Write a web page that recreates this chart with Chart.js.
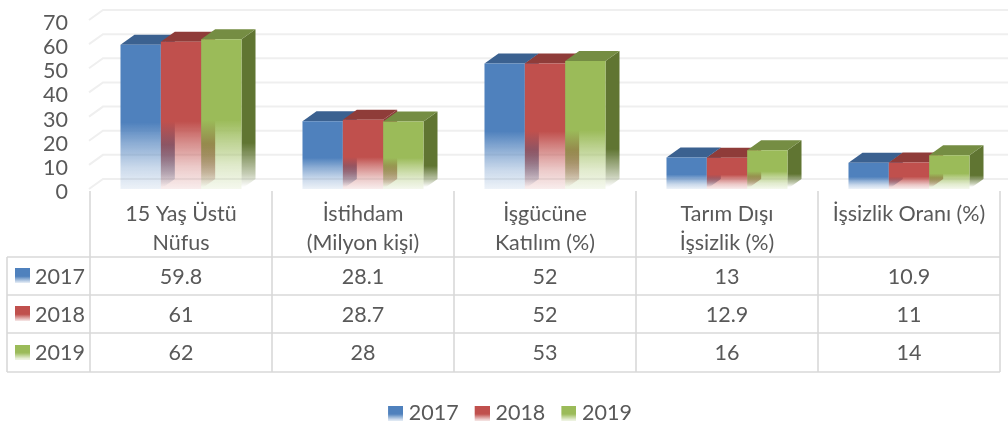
<!DOCTYPE html>
<html><head><meta charset="utf-8">
<style>html,body{margin:0;padding:0;background:#fff}canvas{display:block}</style>
<script src="https://cdn.jsdelivr.net/npm/chart.js@4"></script>
</head><body><canvas id="c" width="1008" height="429"></canvas>
<script>
const categories = [["15 Yaş Üstü","Nüfus"],["İstihdam","(Milyon kişi)"],["İşgücüne","Katılım (%)"],["Tarım Dışı","İşsizlik (%)"],["İşsizlik Oranı (%)"]];
const seriesNames = ["2017","2018","2019"];
const values2017 = [59.8,28.1,52,13,10.9];
const values2018 = [61,28.7,52,12.9,11];
const values2019 = [62,28,53,16,14];
const yTicks = {min:0,max:70,stepSize:10};
const fronts = [[79,129,189],[192,80,77],[155,187,89]];
const tops = ["#3b6190","#8f3c39","#758d43"];
const sides = [[56,93,138],[140,58,56],[96,117,50]];
const allValues = [values2017,values2018,values2019];
const FONT = "Lato, 'Open Sans', sans-serif", TEXT = "#595959", LINE = "#d9d9d9", GRID = "#efefef", FS = 21.5;
const DX = 14, DY = 10;
const rgba = (c,a)=>`rgba(${c[0]},${c[1]},${c[2]},${a})`;

function fade(ctx,c,y0,y1){
  const g = ctx.createLinearGradient(0,y0,0,y1);
  g.addColorStop(0,rgba(c,1)); g.addColorStop(0.54,rgba(c,1));
  g.addColorStop(0.68,rgba(c,0.66)); g.addColorStop(0.85,rgba(c,0.3)); g.addColorStop(1,rgba(c,0.1));
  return g;
}
function swatch(i){
  const cv = document.createElement("canvas"); cv.width = 20; cv.height = 15;
  const x = cv.getContext("2d");
  const g = x.createLinearGradient(0,0,0,15);
  g.addColorStop(0,rgba(fronts[i],1)); g.addColorStop(0.55,rgba(fronts[i],1)); g.addColorStop(1,rgba(fronts[i],0.12));
  x.fillStyle = g; x.fillRect(5,0,15,15);
  return cv;
}
const swatches = fronts.map((_,i)=>swatch(i));

const depth = {
  id:"depth",
  afterLayout(chart){ chart.legend.left += 20; },
  beforeDatasetsDraw(chart){
    const {ctx,chartArea:a,scales:{y}} = chart;
    ctx.save(); ctx.strokeStyle = GRID; ctx.lineWidth = 2;
    y.ticks.forEach(t=>{
      const p = y.getPixelForValue(t.value);
      ctx.beginPath(); ctx.moveTo(a.left-1,p); ctx.lineTo(a.left+DX-1,p-DY); ctx.lineTo(a.right+DX,p-DY); ctx.stroke();
    });
    ctx.restore();
    // left-most series first, so each one's front face lies over its neighbour's side face
    seriesNames.forEach((_,i)=>{
      const meta = chart.getDatasetMeta(i);
      ctx.save();
      meta.data.forEach(b=>{
        const x0=b.x-b.width/2, x1=b.x+b.width/2, t=b.y, base=b.base;
        const g = ctx.createLinearGradient(0,t-DY,0,base-2);
        const c = sides[i];
        g.addColorStop(0,rgba(c,1)); g.addColorStop(0.72,rgba(c,1)); g.addColorStop(0.92,rgba(c,0.35)); g.addColorStop(1,rgba(c,0));
        ctx.fillStyle = g;
        ctx.beginPath(); ctx.moveTo(x1,t); ctx.lineTo(x1+DX,t-DY); ctx.lineTo(x1+DX,base-DY); ctx.lineTo(x1,base); ctx.closePath(); ctx.fill();
        ctx.fillStyle = tops[i];
        ctx.beginPath(); ctx.moveTo(x0,t); ctx.lineTo(x0+DX,t-DY); ctx.lineTo(x1+DX,t-DY); ctx.lineTo(x1,t); ctx.closePath(); ctx.fill();
      });
      ctx.restore();
      meta.controller.draw();
    });
    return false;
  },
  afterDraw(chart){
    const {ctx,chartArea:a,scales:{x}} = chart;
    const rows=[257,295,333,372], left=7, colW = x.width/categories.length;
    ctx.save();
    ctx.strokeStyle = LINE; ctx.lineWidth = 1.6;
    rows.forEach(r=>{ctx.beginPath();ctx.moveTo(left,r);ctx.lineTo(a.right,r);ctx.stroke();});
    ctx.beginPath();ctx.moveTo(left,rows[0]);ctx.lineTo(left,rows[3]);ctx.stroke();
    for(let k=0;k<=categories.length;k++){
      const vx=a.left+k*colW;
      ctx.beginPath();ctx.moveTo(vx,a.bottom+2);ctx.lineTo(vx,rows[3]);ctx.stroke();
    }
    ctx.fillStyle = TEXT; ctx.font = FS+"px "+FONT; ctx.textBaseline = "middle";
    allValues.forEach((vals,i)=>{
      const cy=(rows[i]+rows[i+1])/2;
      ctx.drawImage(swatches[i],10,cy-8);
      ctx.textAlign="left"; ctx.fillText(seriesNames[i],35,cy+1);
      ctx.textAlign="center";
      vals.forEach((v,k)=>ctx.fillText(String(v),x.getPixelForValue(k),cy+1));
    });
    ctx.restore();
  }
};

new Chart(document.getElementById("c"),{
  type:"bar",
  plugins:[depth],
  data:{labels:categories,datasets:seriesNames.map((n,i)=>({
    label:n,data:allValues[i],
    categoryPercentage:0.665,barPercentage:1,borderWidth:0,
    backgroundColor(ctx){
      const ch=ctx.chart; if(!ch.chartArea||ctx.raw===undefined) return rgba(fronts[i],1);
      const y=ch.scales.y; return fade(ch.ctx,fronts[i],y.getPixelForValue(ctx.raw),y.getPixelForValue(0));
    }
  }))},
  options:{
    responsive:false,animation:false,devicePixelRatio:1,
    layout:{padding:{top:20,right:8,left:0,bottom:-5}},
    plugins:{
      tooltip:{enabled:false},
      legend:{position:"bottom",onClick:null,labels:{
        font:{family:FONT,size:FS},color:TEXT,padding:16,usePointStyle:true,pointStyleWidth:10,
        generateLabels:()=>seriesNames.map((n,i)=>({text:n,datasetIndex:i,pointStyle:swatches[i],fontColor:TEXT,lineWidth:0,strokeStyle:"transparent"}))
      }}
    },
    scales:{
      x:{grid:{display:false},border:{display:false},
        ticks:{color:TEXT,font:{family:FONT,size:FS,lineHeight:1.38},padding:2,autoSkip:false,maxRotation:0,minRotation:0},
        afterFit(s){s.height=197.5;}},
      y:{min:yTicks.min,max:yTicks.max,grid:{display:false,drawTicks:true,tickLength:22},border:{display:false},
        ticks:{stepSize:yTicks.stepSize,color:TEXT,font:{family:FONT,size:FS},padding:0,autoSkip:false,labelOffset:3},
        afterFit(s){s.width=90;}}
    }
  }
});
</script></body></html>
